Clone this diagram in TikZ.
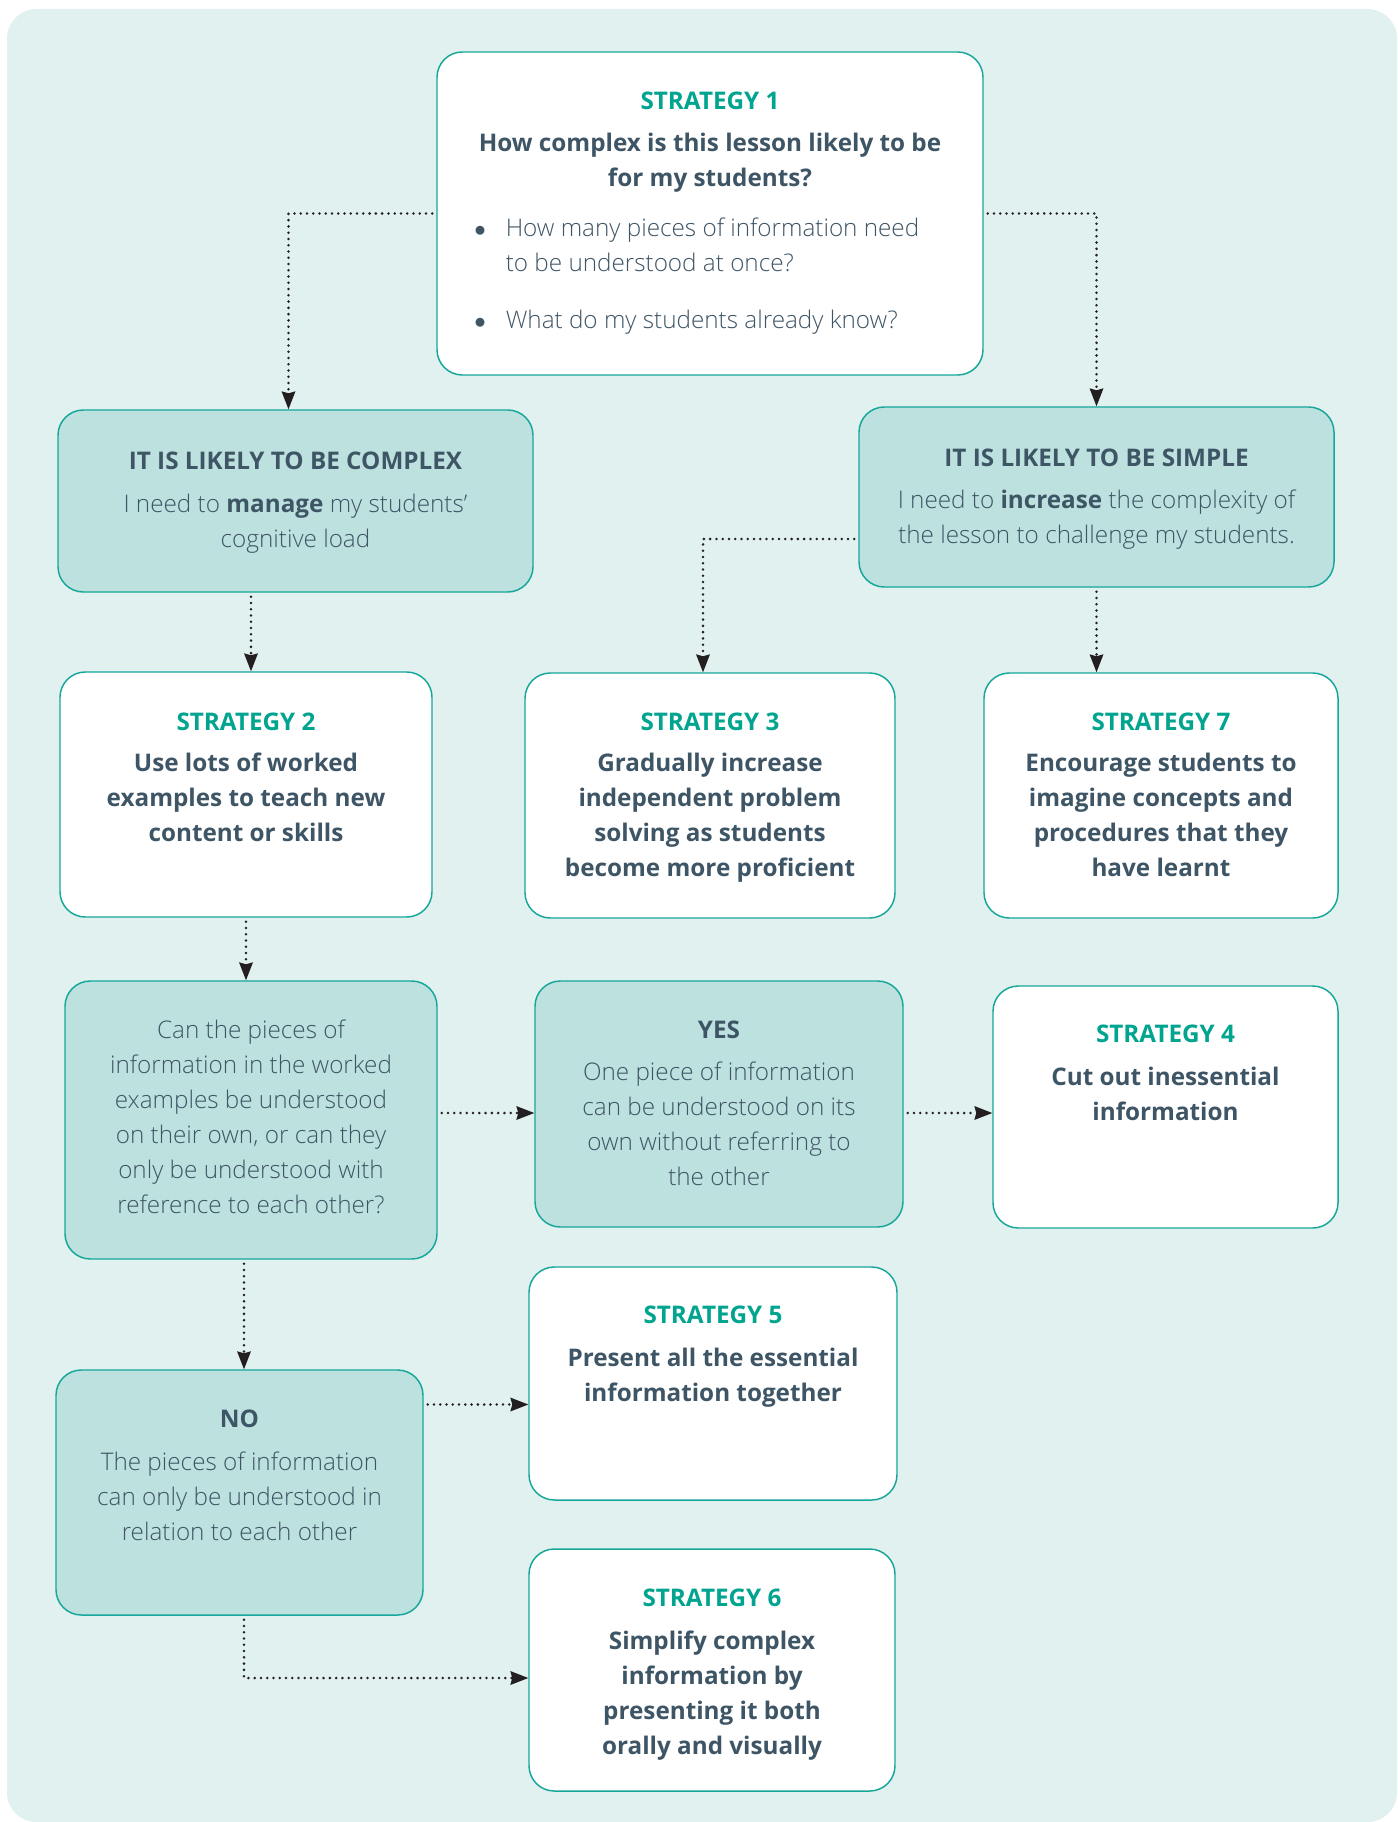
\documentclass[tikz,border=0pt]{standalone}
\usepackage{fontspec}
\setmainfont{Open Sans}[UprightFont={* Light}, BoldFont={* Bold}]
\usetikzlibrary{arrows.meta,calc}
\definecolor{bgcol}{HTML}{E1F1F0}
\definecolor{fillcol}{HTML}{BDE1DE}
\definecolor{edgecol}{HTML}{16A79A}
\definecolor{titlecol}{HTML}{00A48F}
\definecolor{textcol}{HTML}{3E5566}
\definecolor{arrcol}{HTML}{231F20}

\begin{document}
\begin{tikzpicture}[x=0.75pt,y=0.75pt,yscale=-1,xscale=1,
  box/.style={draw=edgecol, line width=1.1pt, rounded corners=19pt, fill=white, inner sep=0pt},
  tealbox/.style={box, fill=fillcol},
  lbl/.style={anchor=north, align=center, inner sep=0pt, text=textcol, font=\fontsize{18.2}{26.25}\selectfont},
  arr/.style={draw=arrcol, line width=2.1pt, line cap=round, dash pattern=on 0pt off 4.7pt,
    -{Stealth[length=13.5pt,width=10.5pt,inset=1.5pt,line width=0pt]}, shorten <=3pt}]
\useasboundingbox (0,0) rectangle (1397,1822);

%Background panel
\fill[bgcol, rounded corners=22pt] (7,9) rectangle (1397,1822);

%Boxes
\node[box, minimum width=409.5pt, minimum height=242.25pt] (s1) at (710,213.5) {};
\node[tealbox, minimum width=356.25pt, minimum height=136.5pt] (cx) at (295.5,501) {};
\node[tealbox, minimum width=356.25pt, minimum height=135pt] (sp) at (1096.5,497) {};
\node[box, minimum width=279pt, minimum height=183.75pt] (s2) at (246,794.5) {};
\node[box, minimum width=277.5pt, minimum height=183.75pt] (s3) at (710,795.5) {};
\node[box, minimum width=265.5pt, minimum height=183.75pt] (s7) at (1161,795.5) {};
\node[tealbox, minimum width=279pt, minimum height=208.5pt] (qq) at (251,1120) {};
\node[tealbox, minimum width=276pt, minimum height=184.5pt] (yes) at (719,1104) {};
\node[box, minimum width=258.75pt, minimum height=181.5pt] (s4) at (1165.5,1107) {};
\node[box, minimum width=276pt, minimum height=174.75pt] (s5) at (713,1383.5) {};
\node[tealbox, minimum width=275.25pt, minimum height=183.75pt] (no) at (239.5,1492.5) {};
\node[box, minimum width=274.5pt, minimum height=181.5pt] (s6) at (712,1670) {};

%Connectors
\draw[arr] (s1.west) -| ($(cx.north)+(-7,0)$);
\draw[arr] (s1.east) -| (sp.north);
\draw[arr] ($(s2.north |- cx.south)+(5,0)$) -- ($(s2.north)+(5,0)$);
\draw[arr] ($(sp.west)+(0,42)$) -| ($(s3.north)+(-7,0)$);
\draw[arr] (sp.south) -- (sp.south |- s7.north);
\draw[arr] (s2.south) -- (s2.south |- qq.north);
\draw[arr] ($(qq.east)+(0,-7)$) -- ($(qq.east -| yes.west)+(0,-7)$);
\draw[arr] ($(yes.east)+(0,9)$) -- ($(yes.east -| s4.west)+(0,9)$);
\draw[arr] ($(qq.south)+(-7,0)$) -- ($(qq.south |- no.north)+(-7,0)$);
\draw[arr] ($(no.east |- s5.west)+(0,21)$) -- ($(s5.west)+(0,21)$);
\draw[arr] ($(no.south)+(4.5,0)$) |- ($(s6.west)+(0,8)$);

% Text Node
\node[lbl] (s1t) at (710,92) {\textcolor{titlecol}{\textbf{STRATEGY 1}}\\[5pt]
  \textbf{How complex is this lesson likely to be}\\ \textbf{for my students?}};
% Text Node
\node[lbl, anchor=north west, align=left] (s1b) at (474,212) {\begin{tabular}{@{}l@{\hspace{15pt}}l@{}}
  $\bullet$ & How many pieces of information need\\
  & to be understood at once?\\[16pt]
  $\bullet$ & What do my students already know?
  \end{tabular}};
% Text Node
\node[lbl] (cxt) at (295.5,452) {\textbf{IT IS LIKELY TO BE COMPLEX}\\[6pt]
  I need to \textbf{manage} my students’\\ cognitive load};
% Text Node
\node[lbl] (spt) at (1096.5,449) {\textbf{IT IS LIKELY TO BE SIMPLE}\\[5pt]
  I need to \textbf{increase} the complexity of\\ the lesson to challenge my students.};
% Text Node
\node[lbl] (s2t) at (246,713) {\textcolor{titlecol}{\textbf{STRATEGY 2}}\\[4pt]
  \textbf{Use lots of worked}\\ \textbf{examples to teach new}\\ \textbf{content or skills}};
% Text Node
\node[lbl] (s3t) at (710,713) {\textcolor{titlecol}{\textbf{STRATEGY 3}}\\[4pt]
  \textbf{Gradually increase}\\ \textbf{independent problem}\\ \textbf{solving as students}\\ \textbf{become more proficient}};
% Text Node
\node[lbl] (s7t) at (1161,713) {\textcolor{titlecol}{\textbf{STRATEGY 7}}\\[4pt]
  \textbf{Encourage students to}\\ \textbf{imagine concepts and}\\ \textbf{procedures that they}\\ \textbf{have learnt}};
% Text Node
\node[lbl] (qqt) at (251,1020) {Can the pieces of\\ information in the worked\\ examples be understood\\
  on their own, or can they\\ only be understood with\\ reference to each other?};
% Text Node
\node[lbl] (yest) at (719,1021) {\textbf{YES}\\[5pt]
  One piece of information\\ can be understood on its\\ own without referring to\\ the other};
% Text Node
\node[lbl] (s4t) at (1165.5,1025) {\textcolor{titlecol}{\textbf{STRATEGY 4}}\\[6pt]
  \textbf{Cut out inessential}\\ \textbf{information}};
% Text Node
\node[lbl] (s5t) at (713,1306) {\textcolor{titlecol}{\textbf{STRATEGY 5}}\\[6pt]
  \textbf{Present all the essential}\\ \textbf{information together}};
% Text Node
\node[lbl] (not) at (239.5,1410) {\textbf{NO}\\[6pt]
  The pieces of information\\ can only be understood in\\ relation to each other};
% Text Node
\node[lbl] (s6t) at (712,1589) {\textcolor{titlecol}{\textbf{STRATEGY 6}}\\[6pt]
  \textbf{Simplify complex}\\ \textbf{information by}\\ \textbf{presenting it both}\\ \textbf{orally and visually}};

\end{tikzpicture}
\end{document}
